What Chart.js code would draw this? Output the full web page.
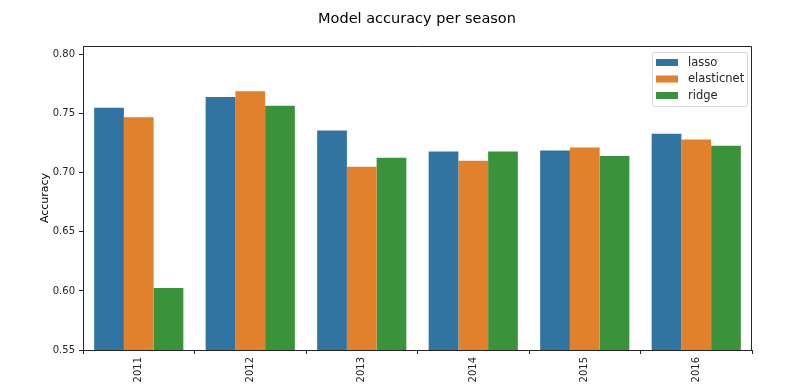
<!DOCTYPE html>
<html>
<head>
<meta charset="utf-8">
<script src="https://cdn.jsdelivr.net/npm/chart.js@4.4.0/dist/chart.umd.min.js"></script>
<style>
  html, body { margin: 0; padding: 0; background: #fff; }
  #wrap { width: 810px; height: 392px; }
</style>
</head>
<body>
<div id="wrap"><canvas id="barChart"></canvas></div>
<script>
const seasons = ['2011', '2012', '2013', '2014', '2015', '2016'];
const lasso = [0.7551, 0.7642, 0.7358, 0.7180, 0.7189, 0.7330];
const elasticnet = [0.7469, 0.7689, 0.7051, 0.7102, 0.7214, 0.7282];
const ridge = [0.6025, 0.7567, 0.7127, 0.7180, 0.7141, 0.7228];
const yTicks = [0.55, 0.60, 0.65, 0.70, 0.75, 0.80];

const FONT = 'DejaVu Sans';
const INK = '#262626';

// title, y label and legend box drawn by hand, matplotlib style
const decor = {
    id: 'decor',
    afterDraw(chart) {
        const c = chart.ctx;
        const area = chart.chartArea;
        c.save();
        c.fillStyle = '#000';
        c.font = '14.5px ' + FONT;
        c.textAlign = 'center';
        c.textBaseline = 'middle';
        c.fillText('Model accuracy per season', 417, 19);

        // y axis label
        c.save();
        c.translate(45, (area.top + area.bottom) / 2);
        c.rotate(-Math.PI / 2);
        c.font = '11px ' + FONT;
        c.fillText('Accuracy', 0, 0);
        c.restore();

        // legend
        const x0 = 652, y0 = 52, w = 95, h = 54;
        c.fillStyle = 'rgba(255,255,255,0.8)';
        c.strokeStyle = '#d6d6d6';
        c.lineWidth = 1;
        c.beginPath();
        c.roundRect(x0 + 0.5, y0 + 0.5, w, h, 2);
        c.fill();
        c.stroke();
        c.font = '11.5px ' + FONT;
        c.textAlign = 'left';
        chart.data.datasets.forEach(function(ds, i) {
            const yy = y0 + 10 + i * 16.5;
            c.fillStyle = ds.backgroundColor;
            c.fillRect(x0 + 4, yy - 3, 22, 7);
            c.fillStyle = INK;
            c.fillText(ds.label, x0 + 36, yy + 1);
        });

        // top and right spines
        c.strokeStyle = INK;
        c.lineWidth = 1;
        c.beginPath();
        c.moveTo(area.left, area.top + 0.5);
        c.lineTo(area.right - 0.5, area.top + 0.5);
        c.lineTo(area.right - 0.5, area.bottom);
        c.stroke();
        c.restore();
    }
};

const ctx = document.getElementById('barChart').getContext('2d');
const barChart = new Chart(ctx, {
    type: 'bar',
    plugins: [decor],
    data: {
        labels: seasons,
        datasets: [
        {
            label: 'lasso',
            data: lasso,
            backgroundColor: '#3274a1'
        },
        {
            label: 'elasticnet',
            data: elasticnet,
            backgroundColor: '#e1812c'
        },
        {
            label: 'ridge',
            data: ridge,
            backgroundColor: '#3a923a'
        }]
    },
    options: {
        responsive: true,
        maintainAspectRatio: false,
        animation: false,
        layout: {
            padding: { top: 46, right: 58, bottom: 0, left: 0 }
        },
        datasets: {
            bar: {
                categoryPercentage: 0.8,
                barPercentage: 1.0
            }
        },
        scales: {
            x: {
                grid: { display: true, drawOnChartArea: false, tickLength: 4, color: INK },
                border: { color: INK, width: 1 },
                ticks: {
                    color: INK,
                    font: { family: FONT, size: 10 },
                    maxRotation: 90,
                    minRotation: 90,
                    padding: 3
                },
                afterFit: function(scale) { scale.height = 42; }
            },
            y: {
                min: 0.55,
                max: 0.8073,
                grid: { display: true, drawOnChartArea: false, tickLength: 4, color: INK },
                border: { color: INK, width: 1 },
                ticks: {
                    color: INK,
                    font: { family: FONT, size: 10 },
                    padding: 4,
                    callback: function(v) { return v.toFixed(2); }
                },
                afterBuildTicks: function(scale) {
                    scale.ticks = yTicks.map(function(v) { return { value: v }; });
                },
                afterFit: function(scale) { scale.width = 83; }
            }
        },
        plugins: {
            legend: { display: false },
            title: { display: false },
            tooltip: { enabled: false }
        }
    }
});
</script>
</body>
</html>
